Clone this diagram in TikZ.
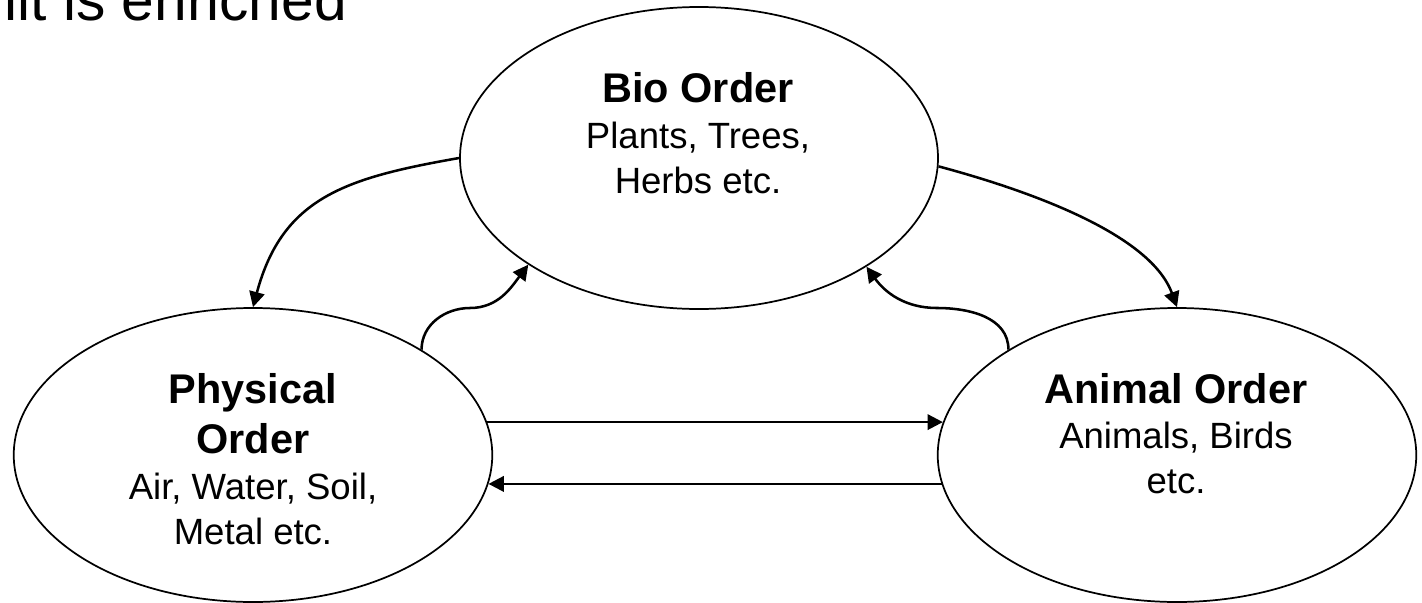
\documentclass[tikz,border=0pt]{standalone}
\usepackage{fontspec}
\setmainfont{Liberation Sans}
\usetikzlibrary{arrows.meta,shapes.geometric}
\begin{document}
\begin{tikzpicture}[x=0.75pt,y=-0.75pt,
  order/.style={draw=black,line width=1.3pt,ellipse,inner sep=0pt,
    minimum width=358.9pt,minimum height=220.5pt},
  head/.style={anchor=base,inner sep=0pt,font=\bfseries\fontsize{31.1pt}{37pt}\selectfont},
  body/.style={anchor=base,inner sep=0pt,font=\fontsize{27.4pt}{33pt}\selectfont},
  conn/.style={line width=1.9pt,-{Triangle[length=11.5pt,width=11.5pt]}}]
\useasboundingbox (0,0) rectangle (1422,603);

\node[anchor=base west,inner sep=0pt,font=\fontsize{44pt}{52pt}\selectfont] (top) at (4.3,20.5) {lit is enriched};

\node[order,minimum width=358.5pt,minimum height=226.5pt] (bio) at (699,158) {};
\node[order] (phys) at (253,455) {};
\node[order] (anim) at (1177,455) {};

\node[head] (bioH) at (698,102) {Bio Order};
\node[body] (bioB1) at (698,148) {Plants, Trees,};
\node[body] (bioB2) at (698,193) {Herbs etc.};
\node[head] (physH1) at (253,403) {Physical};
\node[head] (physH2) at (253,453) {Order};
\node[body] (physB1) at (253,499) {Air, Water, Soil,};
\node[body] (physB2) at (253,544) {Metal etc.};
\node[head] (animH) at (1176,403) {Animal Order};
\node[body] (animB1) at (1176,448) {Animals, Birds};
\node[body] (animB2) at (1176,493) {etc.};

\coordinate (m1) at (470,308);
\coordinate (m2) at (937,308);
\draw[conn] (bio.180) to[out=190,in=75,looseness=1.15] (phys.north);
\draw[conn] (bio.-2) to[out=-15,in=110,looseness=0.75] (anim.north);
\draw[conn] (phys.32) to[out=90,in=180] (m1) to[out=0,in=233] (bio.212.6);
\draw[conn] (anim.148.3) to[out=90,in=0] (m2) to[out=180,in=306] (bio.327.5);
\draw[conn] (phys.8) -- (anim.172);
\draw[conn] (anim.187.5) -- (phys.-7.5);
\end{tikzpicture}
\end{document}
